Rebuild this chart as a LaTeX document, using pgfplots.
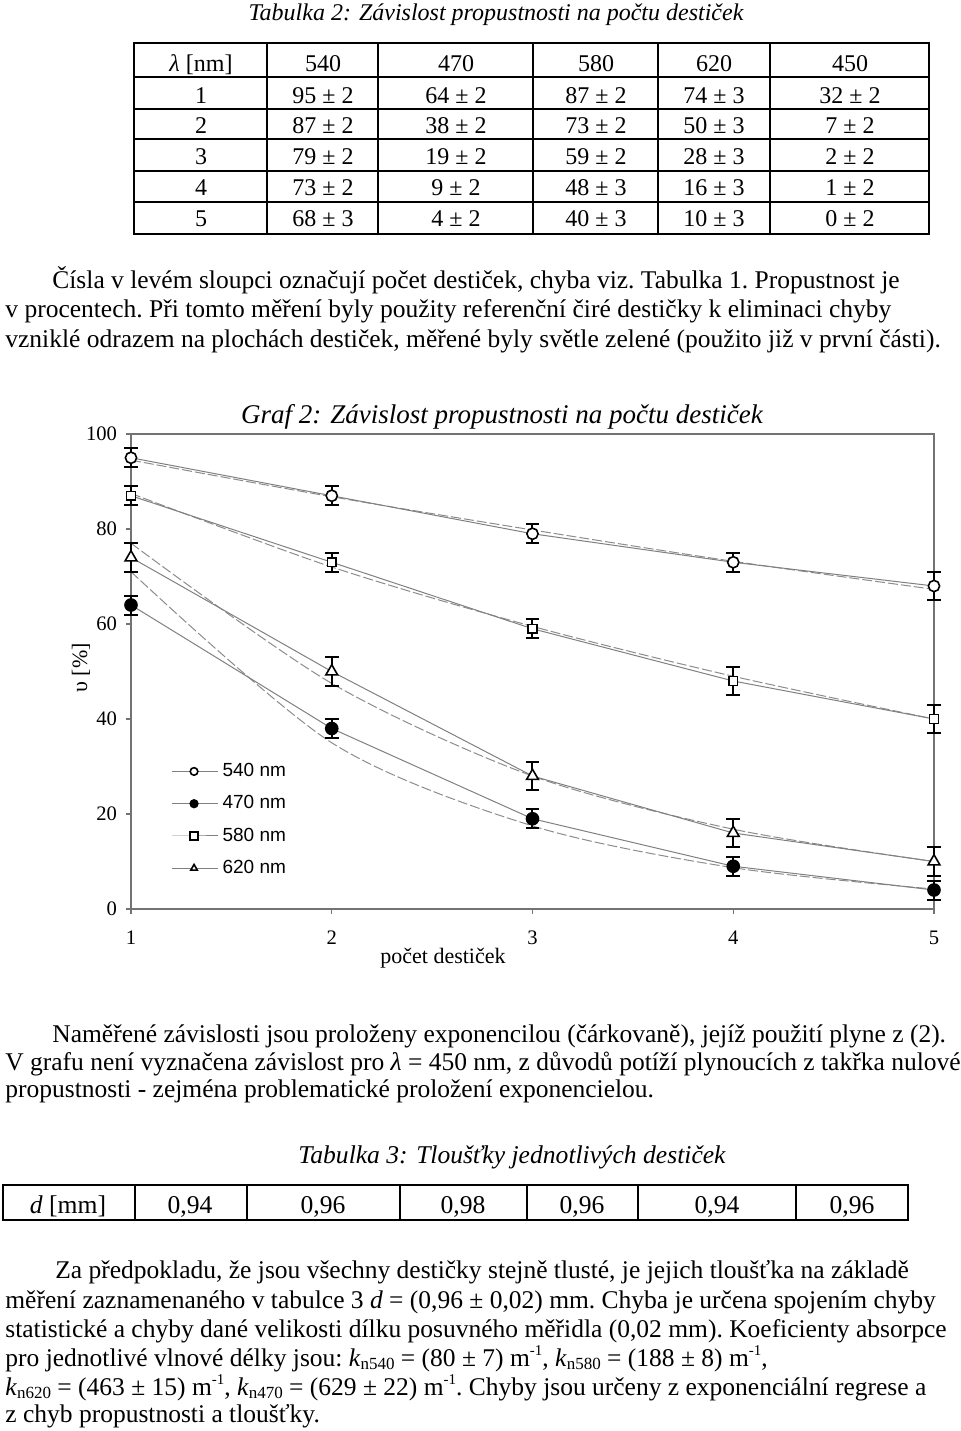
\documentclass[border=0pt]{standalone}
\usepackage{pgfplots}
\pgfplotsset{compat=1.18}
\usepackage{fontspec}
\setmainfont{Liberation Serif}
\newfontfamily\arial{Liberation Sans}
\newcommand\tf{\fontsize{12}{14}\selectfont}
\newcommand\pf{\fontsize{12.75}{15}\selectfont\frenchspacing}
\newcommand\sbx[1]{\raisebox{-0.3ex}{\fontsize{8.5}{9}\selectfont #1}}
\newcommand\spx[1]{\raisebox{0.9ex}{\fontsize{7.5}{8}\selectfont #1}}
\begin{document}
\begin{tikzpicture}
\begin{scope}[x=0.5pt,y=-0.5pt]
\useasboundingbox (0,0) rectangle (960,1431);
\tikzset{tx/.style={inner sep=0pt,font=\tf},px/.style={inner sep=0pt,font=\pf,anchor=base west}}
% ---------- Table 2 ----------
\node[tx,anchor=base,font=\tf\itshape] at (496,20) {Tabulka 2: Závislost propustnosti na počtu destiček};
\foreach \y in {109,139,171,202} \draw[line width=0.6pt] (134,\y) -- (929,\y);
\foreach \x in {378,533,658,770} \draw[line width=0.6pt] (\x,43) -- (\x,234);
\draw[line width=1.1pt] (134,77) -- (929,77);
\draw[line width=1.1pt] (267,43) -- (267,234);
\draw[line width=1.2pt] (134,43) rectangle (929,234);
\foreach \c/\x in {{\textit{λ} [nm]}/201,540/323,470/456,580/596,620/714,450/850}
  \node[tx,anchor=base] at (\x,71) {\c};
\foreach \r/\y in {1/103,2/133,3/164,4/195,5/226}
  \node[tx,anchor=base] at (201,\y) {\r};
\node[tx,anchor=base] at (323,103) {95 ± 2};
\node[tx,anchor=base] at (323,133) {87 ± 2};
\node[tx,anchor=base] at (323,164) {79 ± 2};
\node[tx,anchor=base] at (323,195) {73 ± 2};
\node[tx,anchor=base] at (323,226) {68 ± 3};
\node[tx,anchor=base] at (456,103) {64 ± 2};
\node[tx,anchor=base] at (456,133) {38 ± 2};
\node[tx,anchor=base] at (456,164) {19 ± 2};
\node[tx,anchor=base] at (456,195) {9 ± 2};
\node[tx,anchor=base] at (456,226) {4 ± 2};
\node[tx,anchor=base] at (596,103) {87 ± 2};
\node[tx,anchor=base] at (596,133) {73 ± 2};
\node[tx,anchor=base] at (596,164) {59 ± 2};
\node[tx,anchor=base] at (596,195) {48 ± 3};
\node[tx,anchor=base] at (596,226) {40 ± 3};
\node[tx,anchor=base] at (714,103) {74 ± 3};
\node[tx,anchor=base] at (714,133) {50 ± 3};
\node[tx,anchor=base] at (714,164) {28 ± 3};
\node[tx,anchor=base] at (714,195) {16 ± 3};
\node[tx,anchor=base] at (714,226) {10 ± 3};
\node[tx,anchor=base] at (850,103) {32 ± 2};
\node[tx,anchor=base] at (850,133) {7 ± 2};
\node[tx,anchor=base] at (850,164) {2 ± 2};
\node[tx,anchor=base] at (850,195) {1 ± 2};
\node[tx,anchor=base] at (850,226) {0 ± 2};
% ---------- Paragraph 1 ----------
\node[px] at (52,288) {Čísla v levém sloupci označují počet destiček, chyba viz. Tabulka 1. Propustnost je};
\node[px] at (5,317) {v procentech. Při tomto měření byly použity referenční čiré destičky k eliminaci chyby};
\node[px] at (5,347) {vzniklé odrazem na plochách destiček, měřené byly světle zelené (použito již v první části).};
% ---------- Chart texts ----------
\node[tx,anchor=base,font=\fontsize{13.5}{15}\selectfont\itshape] at (502,423) {Graf 2: Závislost propustnosti na počtu destiček};
\node[tx,anchor=base,font=\fontsize{11}{13}\selectfont] at (443,963) {počet destiček};
\node[tx,rotate=90,font=\fontsize{11}{13}\selectfont] at (81,668) {υ [\%]};
% ---------- Paragraph 2 ----------
\node[px] at (52,1042) {Naměřené závislosti jsou proloženy exponencilou (čárkovaně), jejíž použití plyne z (2).};
\node[px] at (5,1070) {V grafu není vyznačena závislost pro \textit{λ} = 450 nm, z důvodů potíží plynoucích z takřka nulové};
\node[px] at (5,1097) {propustnosti - zejména problematické proložení exponencielou.};
% ---------- Table 3 ----------
\node[tx,anchor=base,font=\fontsize{12.8}{15}\selectfont\itshape] at (512,1163) {Tabulka 3: Tloušťky jednotlivých destiček};
\foreach \x in {135,247,400,527,638,796} \draw[line width=0.6pt] (\x,1185) -- (\x,1220);
\draw[line width=1.2pt] (3,1185) rectangle (908,1220);
\foreach \c/\x in {{\textit{d} [mm]}/68,{0,94}/190,{0,96}/323,{0,98}/463,{0,96}/582,{0,94}/717,{0,96}/852}
  \node[tx,anchor=base,font=\fontsize{12.8}{15}\selectfont] at (\x,1213) {\c};
% ---------- Paragraph 3 ----------
\node[px] at (55,1278) {Za předpokladu, že jsou všechny destičky stejně tlusté, je jejich tloušťka na základě};
\node[px] at (5,1308) {měření zaznamenaného v tabulce 3 \textit{d} = (0,96 ± 0,02) mm. Chyba je určena spojením chyby};
\node[px] at (5,1337) {statistické a chyby dané velikosti dílku posuvného měřidla (0,02 mm). Koeficienty absorpce};
\node[px] at (5,1366) {pro jednotlivé vlnové délky jsou: \textit{k}\sbx{n540} = (80 ± 7) m\spx{-1}, \textit{k}\sbx{n580} = (188 ± 8) m\spx{-1},};
\node[px] at (5,1395) {\textit{k}\sbx{n620} = (463 ± 15) m\spx{-1}, \textit{k}\sbx{n470} = (629 ± 22) m\spx{-1}. Chyby jsou určeny z exponenciální regrese a};
\node[px] at (5,1422) {z chyb propustnosti a tloušťky.};
\end{scope}
% ---------- Chart ----------
\begin{axis}[
  at={(65.5pt,-454.5pt)}, anchor=south west,
  scale only axis, width=401.5pt, height=237.5pt,
  xmin=1, xmax=5, ymin=0, ymax=100,
  xtick={1,2,3,4,5}, ytick={0,20,40,60,80,100},
  xtick pos=bottom, ytick pos=left, tick align=outside,
  major tick length=2.5pt,
  tick style={black!55, line width=0.6pt},
  axis line style={black!55, line width=0.8pt},
  ticklabel style={font=\fontsize{10.3}{12}\selectfont},
  /pgf/number format/assume math mode=true,
  yticklabel style={xshift=-1pt},
  xticklabel style={yshift=-5pt},
  clip=false,
  legend style={at={(axis description cs:0.05,0.316)}, anchor=north west,
    draw=none, fill=none, font=\arial\fontsize{9.5}{11}\selectfont,
    row sep=4pt, inner sep=0pt},
  legend cell align=left,
  legend image code/.code={\draw[mark repeat=2,mark phase=2,mark size=1.9pt,#1] plot coordinates {(0pt,0pt) (11pt,0pt) (23pt,0pt)};},
  error bars/y dir=both, error bars/y explicit,
  error bars/error bar style={black, line width=1pt, solid},
  error bars/error mark options={rotate=90, black, mark size=3.4pt, line width=1pt},
]
% dashed exponential fits
\addplot[black!45, dash pattern=on 5pt off 1.5pt, line width=0.5pt, smooth, forget plot, no markers, error bars/y dir=none] coordinates {(1,94.5) (2,86.8) (3,79.8) (4,73.2) (5,67.3)};
\addplot[black!45, dash pattern=on 5pt off 1.5pt, line width=0.5pt, smooth, forget plot, no markers, error bars/y dir=none] coordinates {(1,71) (2,35) (3,17.5) (4,8.7) (5,4.2)};
\addplot[black!45, dash pattern=on 5pt off 1.5pt, line width=0.5pt, smooth, forget plot, no markers, error bars/y dir=none] coordinates {(1,87.5) (2,72) (3,59.5) (4,49) (5,40)};
\addplot[black!45, dash pattern=on 5pt off 1.5pt, line width=0.5pt, smooth, forget plot, no markers, error bars/y dir=none] coordinates {(1,77) (2,47.5) (3,28) (4,16.8) (5,10)};
% measured
\addplot[black!50, line width=0.5pt, mark=*, mark size=2.8pt, mark options={draw=black, fill=white, line width=0.8pt}]
  coordinates {(1,95) +- (0,2) (2,87) +- (0,2) (3,79) +- (0,2) (4,73) +- (0,2) (5,68) +- (0,3)};
\addlegendentry{540 nm}
\addplot[black!50, line width=0.5pt, mark=*, mark size=3pt, mark options={draw=black, fill=black, line width=0.8pt}]
  coordinates {(1,64) +- (0,2) (2,38) +- (0,2) (3,19) +- (0,2) (4,9) +- (0,2) (5,4) +- (0,2)};
\addlegendentry{470 nm}
\addplot[black!50, line width=0.5pt, mark=square*, mark size=2.2pt, mark options={draw=black, fill=white, line width=0.8pt}]
  coordinates {(1,87) +- (0,2) (2,73) +- (0,2) (3,59) +- (0,2) (4,48) +- (0,3) (5,40) +- (0,3)};
\addlegendentry{580 nm}
\addplot[black!50, line width=0.5pt, mark=triangle*, mark size=3.4pt, mark options={draw=black, fill=white, line width=0.8pt}]
  coordinates {(1,74) +- (0,3) (2,50) +- (0,3) (3,28) +- (0,3) (4,16) +- (0,3) (5,10) +- (0,3)};
\addlegendentry{620 nm}
\end{axis}
\end{tikzpicture}
\end{document}
